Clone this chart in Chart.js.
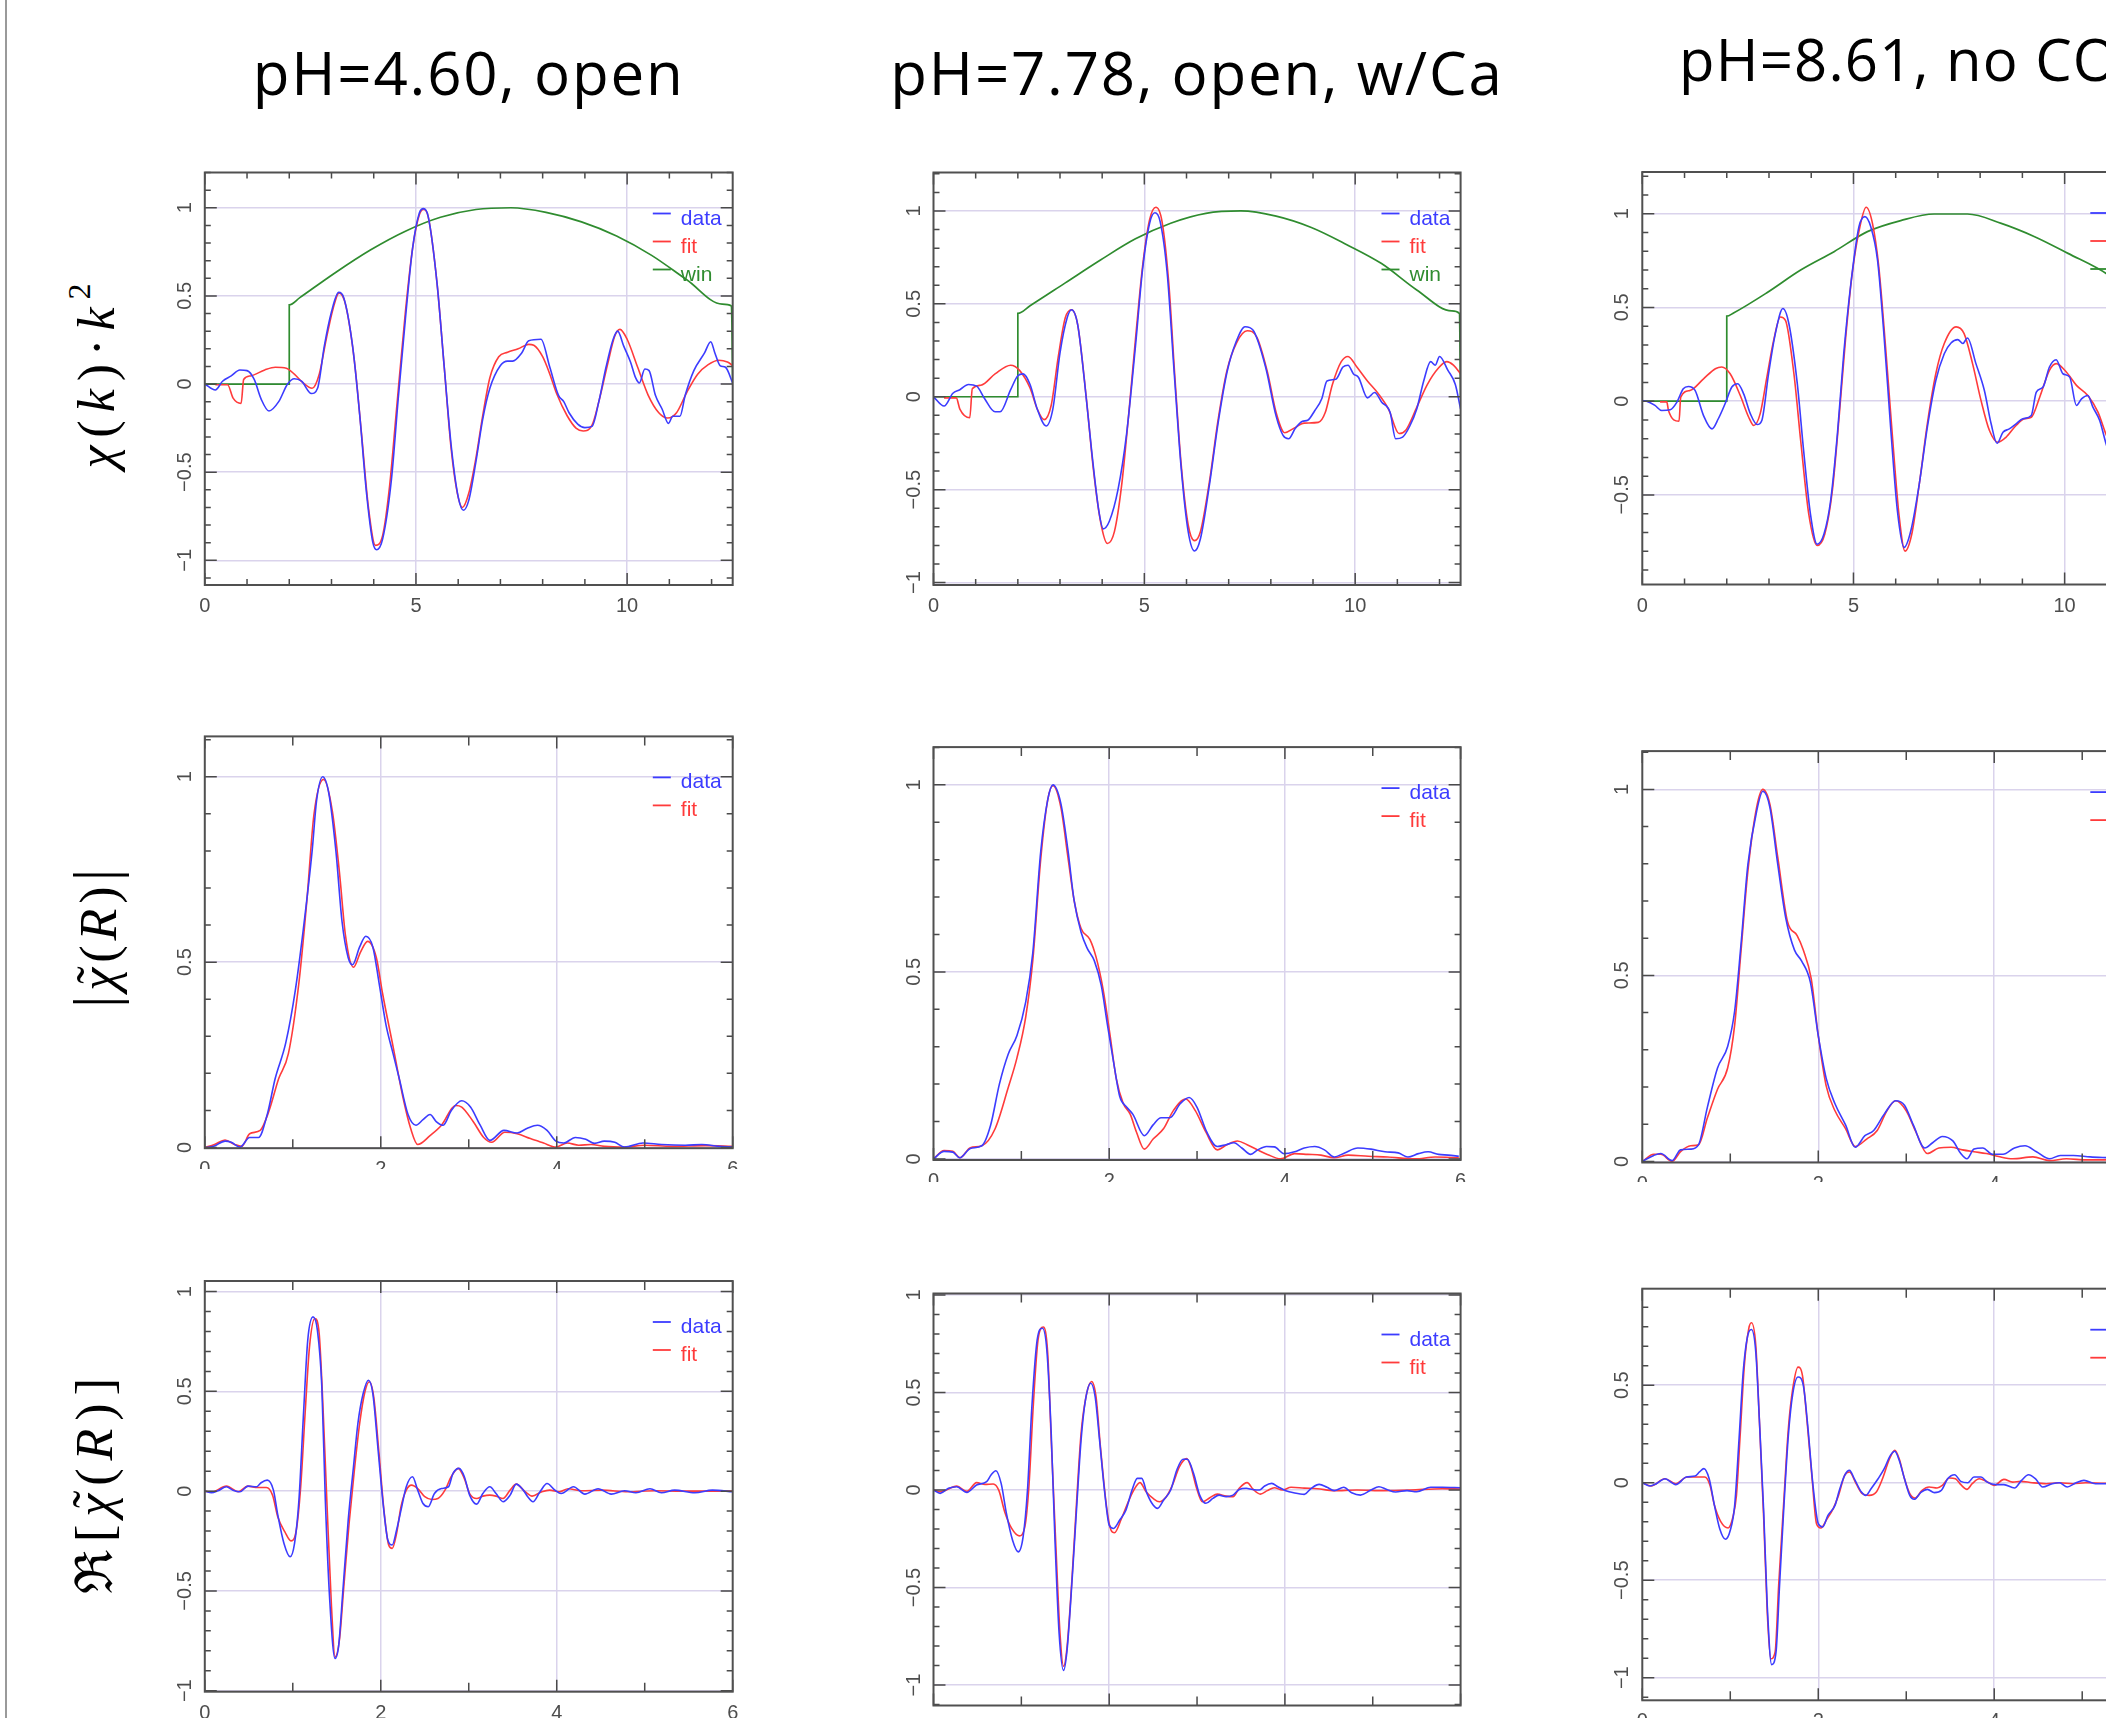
<!DOCTYPE html>
<html><head><meta charset="utf-8">
<script src="https://cdn.jsdelivr.net/npm/chart.js@4.4.0/dist/chart.umd.min.js"></script>
<style>
html,body{margin:0;padding:0;background:#fff;}
body{width:2106px;height:1718px;position:relative;overflow:hidden;}
.panel{position:absolute;background:#fff;}
.title{position:absolute;font-family:'Open Sans',sans-serif;font-size:60px;font-weight:500;letter-spacing:1.8px;line-height:60px;white-space:nowrap;color:#000;z-index:10;}
.ylab{position:absolute;font-family:'Liberation Serif','Times New Roman',serif;font-size:52px;line-height:60px;white-space:nowrap;color:#000;transform:translate(-50%,-50%) rotate(-90deg);z-index:10;}
.ylab sup{font-size:32px;vertical-align:24px;line-height:0;}
.tl{position:relative;display:inline-block;}
.tilde{position:absolute;left:56%;top:-3px;transform:translateX(-50%);font-style:normal;letter-spacing:0;}
.bar{font-size:62px;}
</style></head><body>
<div style="position:absolute;left:5px;top:0;width:2px;height:1718px;background:#9a9a9a;z-index:11"></div>
<script>
// ---------- text ----------
const columnTitles = ['pH=4.60, open', 'pH=7.78, open, w/Ca', 'pH=8.61, no CO\u2082'];
const seriesLabels = ['data', 'fit', 'win'];
const kTicks = [0, 5, 10];
const rTicks = [0, 2, 4, 6];
const yTicksChi = [-1, -0.5, 0, 0.5, 1];
const yTicksMag = [0, 0.5, 1];
const yTicksRe = [-1, -0.5, 0, 0.5, 1];

// ---------- chi(k)*k^2 : [k, value] ----------
const chi460Data = [[0,0],[0.25,-0.034],[0.42,0.016],[0.625,0.046],[0.83,0.08],[1.0,0.076],[1.17,0.026],[1.33,-0.083],[1.52,-0.153],[1.75,-0.10],[1.96,0],[2.12,0.03],[2.29,0.016],[2.525,-0.054],[2.67,-0.024],[2.83,0.215],[3.0,0.41],[3.17,0.52],[3.29,0.49],[3.5,0.215],[3.67,-0.18],[3.83,-0.62],[3.98,-0.90],[4.07,-0.94],[4.21,-0.88],[4.42,-0.54],[4.58,-0.083],[4.75,0.37],[4.92,0.77],[5.08,0.97],[5.18,0.995],[5.29,0.95],[5.5,0.57],[5.67,0.095],[5.83,-0.34],[6.0,-0.64],[6.125,-0.716],[6.25,-0.66],[6.42,-0.44],[6.58,-0.20],[6.75,-0.024],[7.0,0.105],[7.17,0.13],[7.29,0.13],[7.5,0.175],[7.67,0.245],[7.96,0.254],[8.17,0.095],[8.375,-0.064],[8.5,-0.10],[8.625,-0.163],[8.83,-0.227],[9.0,-0.247],[9.17,-0.24],[9.33,-0.10],[9.5,0.095],[9.67,0.254],[9.775,0.30],[9.92,0.215],[10.08,0.125],[10.2,0.036],[10.29,0.006],[10.42,0.085],[10.52,0.076],[10.67,-0.064],[10.83,-0.143],[10.98,-0.223],[11.08,-0.183],[11.25,-0.183],[11.375,-0.064],[11.58,0.076],[11.83,0.175],[11.98,0.24],[12.08,0.175],[12.2,0.105],[12.33,0.095],[12.5,0.006]];
const chi460Fit = [[0.25,-0.004],[0.54,-0.004],[0.67,-0.08],[0.86,-0.11],[0.92,0.026],[1.08,0.046],[1.42,0.08],[1.67,0.095],[1.93,0.09],[2.12,0.056],[2.33,0.006],[2.54,-0.024],[2.71,0.056],[2.875,0.254],[3.04,0.43],[3.18,0.517],[3.33,0.453],[3.54,0.135],[3.71,-0.28],[3.875,-0.70],[4.04,-0.915],[4.21,-0.86],[4.375,-0.58],[4.54,-0.143],[4.75,0.41],[4.92,0.77],[5.08,0.96],[5.18,0.99],[5.29,0.95],[5.5,0.57],[5.67,0.095],[5.83,-0.36],[5.98,-0.62],[6.1,-0.70],[6.25,-0.62],[6.42,-0.42],[6.58,-0.18],[6.75,0.036],[6.96,0.155],[7.17,0.18],[7.42,0.2],[7.67,0.225],[7.79,0.22],[8.0,0.155],[8.17,0.056],[8.33,-0.054],[8.58,-0.18],[8.79,-0.25],[8.96,-0.266],[9.17,-0.233],[9.33,-0.10],[9.54,0.115],[9.71,0.274],[9.83,0.31],[10.0,0.254],[10.25,0.095],[10.5,-0.064],[10.75,-0.163],[10.96,-0.193],[11.17,-0.163],[11.42,-0.044],[11.67,0.056],[11.92,0.11],[12.17,0.135],[12.375,0.125],[12.5,0.105]];
const win460 = [[0,0],[2.0,0],[2.0,0.449],[2.25,0.49],[3.08,0.63],[3.92,0.76],[4.75,0.867],[5.58,0.946],[6.42,0.99],[7.25,1.0],[8.08,0.974],[8.92,0.92],[9.75,0.84],[10.58,0.73],[11.42,0.59],[12.25,0.453],[12.47,0.443],[12.5,0]];

const chi778Data = [[0,0],[0.25,-0.05],[0.46,0.019],[0.625,0.038],[0.83,0.066],[1.025,0.057],[1.21,-0.009],[1.46,-0.081],[1.58,-0.081],[1.83,0.038],[2.0,0.113],[2.125,0.123],[2.29,0.066],[2.46,-0.066],[2.67,-0.157],[2.83,-0.066],[3.0,0.236],[3.17,0.425],[3.275,0.468],[3.42,0.387],[3.58,0.085],[3.75,-0.29],[3.92,-0.613],[4.025,-0.711],[4.17,-0.67],[4.375,-0.50],[4.58,-0.198],[4.79,0.274],[4.96,0.689],[5.125,0.934],[5.25,0.99],[5.375,0.943],[5.54,0.67],[5.71,0.123],[5.875,-0.387],[6.04,-0.726],[6.19,-0.83],[6.33,-0.764],[6.54,-0.48],[6.75,-0.14],[6.96,0.132],[7.17,0.292],[7.39,0.377],[7.58,0.358],[7.875,0.16],[8.125,-0.104],[8.29,-0.208],[8.42,-0.226],[8.58,-0.17],[8.75,-0.132],[8.875,-0.126],[9.04,-0.075],[9.21,-0.009],[9.33,0.085],[9.54,0.094],[9.71,0.16],[9.83,0.17],[9.96,0.123],[10.08,0.104],[10.29,-0.006],[10.46,0.023],[10.625,-0.028],[10.83,-0.085],[10.96,-0.226],[11.125,-0.217],[11.29,-0.16],[11.46,-0.066],[11.625,0.085],[11.79,0.189],[11.9,0.17],[12.0,0.217],[12.2,0.142],[12.375,0.066],[12.5,-0.066]];
const chi778Fit = [[0.25,-0.006],[0.54,-0.006],[0.625,-0.066],[0.86,-0.113],[0.92,0.043],[1.125,0.062],[1.46,0.123],[1.83,0.17],[2.04,0.142],[2.29,0.047],[2.46,-0.066],[2.625,-0.123],[2.79,-0.047],[2.96,0.217],[3.125,0.425],[3.275,0.468],[3.42,0.387],[3.625,-0.009],[3.79,-0.387],[3.96,-0.67],[4.125,-0.79],[4.29,-0.726],[4.46,-0.48],[4.625,-0.104],[4.79,0.31],[4.96,0.706],[5.125,0.953],[5.275,1.02],[5.42,0.943],[5.58,0.61],[5.725,0.104],[5.875,-0.368],[6.04,-0.69],[6.19,-0.774],[6.33,-0.726],[6.54,-0.462],[6.75,-0.123],[6.96,0.142],[7.19,0.292],[7.44,0.355],[7.67,0.32],[7.92,0.132],[8.125,-0.085],[8.33,-0.194],[8.54,-0.17],[8.79,-0.142],[9.125,-0.138],[9.29,-0.085],[9.46,0.066],[9.67,0.189],[9.83,0.217],[10.04,0.16],[10.29,0.085],[10.54,0.019],[10.79,-0.066],[11.04,-0.198],[11.2,-0.18],[11.46,-0.057],[11.71,0.066],[11.96,0.151],[12.17,0.189],[12.33,0.17],[12.5,0.123]];
const win778 = [[0,0],[2.0,0],[2.0,0.449],[2.29,0.49],[3.125,0.613],[3.96,0.736],[4.79,0.85],[5.625,0.934],[6.46,0.987],[7.29,1.0],[8.125,0.972],[8.96,0.911],[9.79,0.82],[10.625,0.717],[11.46,0.575],[12.29,0.462],[12.47,0.449],[12.5,0]];

const chi861Data = [[0,0.003],[0.1,0],[0.3,-0.023],[0.46,-0.05],[0.66,-0.046],[0.82,-0.005],[0.97,0.066],[1.09,0.078],[1.25,0.057],[1.45,-0.077],[1.65,-0.148],[1.8,-0.094],[1.96,-0.014],[2.12,0.075],[2.26,0.093],[2.4,0.039],[2.56,-0.068],[2.72,-0.125],[2.83,-0.103],[2.99,0.146],[3.15,0.36],[3.33,0.494],[3.47,0.414],[3.67,0.093],[3.82,-0.264],[3.98,-0.60],[4.14,-0.763],[4.3,-0.71],[4.46,-0.53],[4.62,-0.175],[4.77,0.253],[4.93,0.61],[5.13,0.93],[5.27,0.984],[5.41,0.93],[5.57,0.752],[5.72,0.36],[5.88,-0.139],[6.04,-0.584],[6.2,-0.78],[6.36,-0.69],[6.56,-0.44],[6.75,-0.139],[6.95,0.11],[7.15,0.253],[7.31,0.31],[7.47,0.328],[7.59,0.307],[7.7,0.337],[7.9,0.2],[8.1,0.057],[8.26,-0.121],[8.4,-0.225],[8.54,-0.166],[8.69,-0.148],[8.85,-0.121],[9.01,-0.094],[9.21,-0.077],[9.33,0.048],[9.49,0.075],[9.64,0.182],[9.8,0.221],[9.96,0.146],[10.12,0.128],[10.28,-0.023],[10.4,0.012],[10.55,0.03],[10.67,-0.032],[10.83,-0.103],[11.01,-0.246],[11.2,-0.3]];
const chi861Fit = [[0.42,-0.004],[0.58,-0.004],[0.62,-0.05],[0.87,-0.107],[0.91,0.021],[1.13,0.057],[1.45,0.119],[1.73,0.173],[1.88,0.182],[2.08,0.146],[2.32,0.03],[2.52,-0.086],[2.64,-0.13],[2.79,-0.068],[2.95,0.128],[3.11,0.324],[3.27,0.449],[3.39,0.431],[3.59,0.146],[3.75,-0.21],[3.94,-0.60],[4.14,-0.77],[4.32,-0.71],[4.5,-0.478],[4.66,-0.086],[4.81,0.324],[4.97,0.68],[5.17,0.948],[5.3,1.034],[5.45,0.948],[5.6,0.716],[5.76,0.289],[5.92,-0.18],[6.08,-0.61],[6.22,-0.80],[6.38,-0.71],[6.56,-0.44],[6.75,-0.12],[6.95,0.146],[7.15,0.307],[7.43,0.396],[7.62,0.36],[7.82,0.2],[8.02,0.004],[8.22,-0.157],[8.42,-0.219],[8.61,-0.193],[8.85,-0.13],[9.05,-0.094],[9.21,-0.086],[9.41,0.021],[9.64,0.164],[9.8,0.2],[10.04,0.155],[10.28,0.084],[10.55,0.03],[10.79,-0.059],[11.01,-0.193],[11.2,-0.25]];
const win861 = [[0,0],[2.0,0],[2.0,0.453],[2.16,0.47],[2.95,0.578],[3.75,0.699],[4.54,0.797],[5.33,0.904],[6.12,0.963],[6.91,0.998],[7.7,0.998],[8.5,0.948],[9.29,0.877],[10.08,0.788],[11.01,0.677],[11.6,0.57],[12.47,0.449],[12.5,0]];

// ---------- |chi(R)| : [R, value] ----------
const mag460Data = [[0,0],[0.1,0.003],[0.23,0.017],[0.3,0.014],[0.4,0.001],[0.51,0.027],[0.61,0.027],[0.71,0.089],[0.8,0.186],[0.92,0.282],[1.03,0.426],[1.12,0.589],[1.22,0.80],[1.27,0.935],[1.34,1.0],[1.41,0.955],[1.49,0.80],[1.56,0.609],[1.63,0.512],[1.68,0.493],[1.76,0.541],[1.83,0.57],[1.91,0.541],[1.98,0.445],[2.06,0.33],[2.14,0.253],[2.21,0.186],[2.31,0.089],[2.4,0.06],[2.48,0.075],[2.56,0.089],[2.63,0.07],[2.71,0.06],[2.8,0.099],[2.92,0.126],[3.02,0.109],[3.13,0.06],[3.24,0.019],[3.4,0.046],[3.55,0.039],[3.66,0.051],[3.78,0.06],[3.89,0.046],[3.99,0.017],[4.08,0.012],[4.21,0.027],[4.33,0.022],[4.43,0.011],[4.54,0.017],[4.66,0.014],[4.77,0.001],[4.98,0.012],[5.19,0.008],[5.46,0.006],[5.65,0.008],[5.84,0.003],[6.0,0.001]];
const mag460Fit = [[0,0],[0.11,0.008],[0.23,0.02],[0.34,0.008],[0.42,0.003],[0.51,0.037],[0.63,0.046],[0.73,0.099],[0.84,0.186],[0.95,0.253],[1.07,0.445],[1.16,0.666],[1.24,0.897],[1.35,0.993],[1.45,0.907],[1.53,0.743],[1.6,0.57],[1.69,0.486],[1.77,0.527],[1.85,0.556],[1.95,0.512],[2.02,0.416],[2.14,0.272],[2.25,0.1375],[2.34,0.051],[2.42,0.008],[2.56,0.032],[2.69,0.06],[2.85,0.113],[2.92,0.109],[3.05,0.07],[3.17,0.027],[3.26,0.014],[3.41,0.041],[3.55,0.037],[3.7,0.024],[3.85,0.012],[3.99,0.001],[4.12,0.012],[4.25,0.006],[4.39,0.008],[4.54,0.003],[4.77,0.001],[5.0,0.006],[5.31,0.003],[5.69,0.005],[6.0,0.003]];

const mag778Data = [[0,0],[0.12,0.02],[0.22,0.018],[0.3,0.003],[0.42,0.028],[0.55,0.035],[0.65,0.09],[0.75,0.2],[0.85,0.28],[0.95,0.33],[1.05,0.42],[1.13,0.55],[1.22,0.82],[1.3,0.96],[1.36,1.0],[1.45,0.95],[1.53,0.826],[1.6,0.692],[1.68,0.606],[1.75,0.563],[1.83,0.53],[1.91,0.463],[1.98,0.358],[2.06,0.244],[2.12,0.167],[2.2,0.138],[2.27,0.119],[2.4,0.062],[2.5,0.091],[2.59,0.11],[2.69,0.11],[2.81,0.148],[2.91,0.164],[3.0,0.138],[3.11,0.072],[3.23,0.033],[3.33,0.038],[3.42,0.043],[3.51,0.029],[3.61,0.012],[3.69,0.024],[3.79,0.033],[3.88,0.032],[3.99,0.014],[4.11,0.019],[4.22,0.029],[4.34,0.033],[4.45,0.024],[4.56,0.005],[4.68,0.016],[4.83,0.029],[4.98,0.026],[5.14,0.019],[5.29,0.016],[5.4,0.005],[5.52,0.014],[5.63,0.019],[5.75,0.012],[5.86,0.01],[5.98,0.007]];
const mag778Fit = [[0,0],[0.12,0.022],[0.22,0.02],[0.3,0.003],[0.42,0.03],[0.55,0.035],[0.7,0.08],[0.85,0.19],[0.95,0.27],[1.05,0.38],[1.13,0.53],[1.22,0.8],[1.3,0.96],[1.36,0.998],[1.45,0.94],[1.53,0.807],[1.6,0.692],[1.68,0.616],[1.78,0.587],[1.85,0.54],[1.93,0.454],[2.01,0.33],[2.08,0.215],[2.16,0.148],[2.24,0.119],[2.31,0.072],[2.4,0.026],[2.5,0.053],[2.62,0.081],[2.73,0.129],[2.87,0.16],[2.98,0.129],[3.1,0.072],[3.23,0.024],[3.34,0.038],[3.46,0.048],[3.57,0.038],[3.69,0.024],[3.8,0.012],[3.95,0],[4.11,0.014],[4.26,0.012],[4.41,0.01],[4.56,0.003],[4.72,0.01],[4.95,0.007],[5.17,0.005],[5.48,0],[5.71,0.005],[5.98,0.003]];

const mag861Data = [[0,0],[0.13,0.016],[0.21,0.021],[0.34,0.002],[0.435,0.031],[0.55,0.033],[0.64,0.045],[0.74,0.146],[0.855,0.251],[0.97,0.309],[1.05,0.405],[1.12,0.578],[1.2,0.798],[1.3,0.942],[1.37,0.995],[1.45,0.952],[1.54,0.798],[1.63,0.655],[1.73,0.568],[1.81,0.539],[1.91,0.482],[2.0,0.338],[2.09,0.223],[2.19,0.155],[2.31,0.098],[2.42,0.038],[2.53,0.069],[2.63,0.083],[2.75,0.127],[2.88,0.163],[2.98,0.151],[3.08,0.098],[3.21,0.036],[3.3,0.05],[3.41,0.067],[3.53,0.055],[3.62,0.021],[3.69,0.007],[3.77,0.033],[3.87,0.036],[3.98,0.019],[4.1,0.019],[4.23,0.036],[4.35,0.042],[4.48,0.026],[4.63,0.007],[4.75,0.016],[4.9,0.016],[5.09,0.012],[5.27,0.01],[5.5,0.008],[5.8,0.005],[6.0,0.004]];
const mag861Fit = [[0,0],[0.13,0.019],[0.21,0.019],[0.34,0],[0.435,0.026],[0.55,0.042],[0.64,0.045],[0.74,0.117],[0.855,0.194],[0.97,0.251],[1.05,0.367],[1.12,0.56],[1.2,0.78],[1.3,0.952],[1.37,1.0],[1.45,0.96],[1.54,0.817],[1.65,0.645],[1.76,0.607],[1.83,0.568],[1.92,0.491],[2.0,0.338],[2.09,0.203],[2.19,0.136],[2.31,0.088],[2.42,0.04],[2.55,0.06],[2.67,0.083],[2.78,0.136],[2.88,0.163],[3.0,0.136],[3.11,0.079],[3.24,0.021],[3.37,0.036],[3.51,0.038],[3.64,0.031],[3.77,0.026],[3.91,0.021],[4.05,0.013],[4.21,0.007],[4.44,0.012],[4.63,0.002],[4.82,0.007],[5.05,0.004],[5.27,0.004],[5.6,0.003],[6.0,0.002]];

// ---------- Re[chi(R)] : [R, value] ----------
const re460Data = [[0,0],[0.076,-0.008],[0.15,0.002],[0.246,0.022],[0.32,0.005],[0.4,-0.003],[0.49,0.025],[0.59,0.022],[0.64,0.042],[0.71,0.055],[0.78,0.005],[0.83,-0.12],[0.9,-0.262],[0.97,-0.329],[1.02,-0.262],[1.07,-0.045],[1.12,0.372],[1.17,0.756],[1.23,0.873],[1.28,0.806],[1.33,0.524],[1.37,-0.045],[1.42,-0.546],[1.48,-0.838],[1.52,-0.78],[1.57,-0.496],[1.63,-0.145],[1.69,0.122],[1.74,0.339],[1.8,0.489],[1.86,0.556],[1.91,0.489],[1.97,0.205],[2.03,-0.078],[2.08,-0.245],[2.13,-0.27],[2.18,-0.195],[2.23,-0.095],[2.29,0.022],[2.36,0.072],[2.42,0.005],[2.48,-0.062],[2.54,-0.078],[2.61,-0.012],[2.69,0.013],[2.77,0.022],[2.82,0.088],[2.89,0.114],[2.95,0.072],[3.01,-0.02],[3.09,-0.065],[3.16,-0.012],[3.24,0.022],[3.31,-0.012],[3.39,-0.053],[3.47,-0.02],[3.54,0.035],[3.62,0.005],[3.67,-0.028],[3.73,-0.053],[3.81,-0.003],[3.89,0.038],[3.98,0.005],[4.05,-0.012],[4.19,0.022],[4.32,-0.015],[4.47,0.012],[4.62,-0.015],[4.77,0.002],[4.9,-0.008],[5.06,0.012],[5.19,-0.008],[5.34,0.005],[5.57,-0.008],[5.77,0.005],[6.0,-0.003]];
const re460Fit = [[0,0],[0.076,-0.005],[0.246,0.025],[0.38,-0.003],[0.49,0.025],[0.6,0.018],[0.7,0.018],[0.77,-0.02],[0.83,-0.129],[0.91,-0.204],[0.98,-0.249],[1.04,-0.195],[1.09,0.022],[1.14,0.389],[1.19,0.723],[1.25,0.865],[1.3,0.79],[1.34,0.456],[1.39,-0.078],[1.44,-0.579],[1.48,-0.83],[1.53,-0.746],[1.58,-0.479],[1.64,-0.162],[1.7,0.105],[1.76,0.339],[1.82,0.498],[1.87,0.548],[1.92,0.472],[1.98,0.189],[2.04,-0.112],[2.09,-0.27],[2.13,-0.287],[2.18,-0.212],[2.23,-0.078],[2.29,0.005],[2.35,0.03],[2.42,0.013],[2.5,-0.028],[2.58,-0.042],[2.65,-0.037],[2.73,0.005],[2.8,0.072],[2.88,0.114],[2.95,0.063],[3.01,-0.012],[3.09,-0.037],[3.16,-0.025],[3.24,-0.02],[3.31,-0.025],[3.39,-0.037],[3.47,0.005],[3.54,0.035],[3.64,-0.003],[3.72,-0.025],[3.83,-0.003],[3.92,0.005],[4.03,-0.003],[4.13,0.012],[4.28,0.002],[4.51,0.005],[4.81,-0.003],[5.11,0.002],[5.42,0],[5.77,0],[6.0,0]];

const re778Data = [[0,0],[0.076,-0.017],[0.17,0.009],[0.265,0.017],[0.38,-0.012],[0.49,0.026],[0.605,0.043],[0.655,0.077],[0.71,0.099],[0.77,0.034],[0.83,-0.12],[0.9,-0.257],[0.965,-0.317],[1.02,-0.24],[1.07,0],[1.12,0.428],[1.18,0.77],[1.24,0.83],[1.29,0.719],[1.34,0.291],[1.38,-0.223],[1.43,-0.736],[1.48,-0.925],[1.52,-0.822],[1.58,-0.445],[1.63,-0.086],[1.68,0.257],[1.73,0.462],[1.79,0.548],[1.84,0.479],[1.89,0.257],[1.95,-0.017],[2.0,-0.18],[2.05,-0.197],[2.12,-0.154],[2.19,-0.103],[2.26,0],[2.32,0.06],[2.37,0.06],[2.43,-0.017],[2.5,-0.077],[2.55,-0.094],[2.62,-0.051],[2.7,0],[2.77,0.103],[2.84,0.158],[2.89,0.158],[2.96,0.086],[3.03,-0.026],[3.1,-0.068],[3.18,-0.043],[3.25,-0.026],[3.33,-0.034],[3.41,-0.026],[3.48,0.003],[3.56,0.009],[3.63,0.003],[3.71,0],[3.77,0.021],[3.85,0.034],[3.92,0.017],[4.01,-0.003],[4.1,-0.014],[4.22,-0.022],[4.3,0.009],[4.39,0.029],[4.48,0.014],[4.56,-0.003],[4.67,0.014],[4.76,-0.014],[4.86,-0.026],[4.98,0],[5.07,0.017],[5.16,0.003],[5.26,-0.01],[5.39,-0.003],[5.5,-0.009],[5.66,0.014],[5.79,0.014],[6.0,0.012]];
const re778Fit = [[0,0],[0.076,-0.009],[0.265,0.02],[0.38,-0.007],[0.49,0.038],[0.586,0.029],[0.68,0.031],[0.745,-0.003],[0.81,-0.111],[0.89,-0.197],[0.976,-0.235],[1.04,-0.188],[1.086,0.017],[1.135,0.428],[1.19,0.77],[1.25,0.836],[1.3,0.702],[1.34,0.257],[1.39,-0.257],[1.44,-0.736],[1.48,-0.904],[1.52,-0.807],[1.58,-0.428],[1.63,-0.051],[1.68,0.291],[1.74,0.488],[1.8,0.557],[1.85,0.479],[1.9,0.223],[1.97,-0.086],[2.02,-0.205],[2.06,-0.219],[2.14,-0.146],[2.21,-0.068],[2.28,0],[2.35,0.038],[2.42,-0.009],[2.5,-0.043],[2.57,-0.06],[2.65,-0.034],[2.72,0.026],[2.8,0.12],[2.88,0.161],[2.93,0.12],[2.99,0.017],[3.06,-0.06],[3.15,-0.038],[3.23,-0.021],[3.33,-0.031],[3.41,-0.034],[3.48,0.009],[3.57,0.038],[3.64,0.003],[3.72,-0.021],[3.8,-0.003],[3.88,0.012],[3.97,0],[4.07,0.014],[4.22,0.01],[4.37,0.007],[4.56,-0.003],[4.82,0],[5.13,-0.003],[5.43,0],[5.79,0.007],[6.0,0.005]];

const re861Data = [[0,0],[0.087,-0.017],[0.16,-0.005],[0.257,0.02],[0.38,-0.01],[0.5,0.029],[0.6,0.034],[0.65,0.055],[0.7,0.072],[0.76,0.02],[0.82,-0.116],[0.88,-0.236],[0.945,-0.29],[1.0,-0.244],[1.05,-0.116],[1.1,0.226],[1.15,0.585],[1.21,0.773],[1.24,0.786],[1.29,0.67],[1.33,0.328],[1.38,-0.15],[1.42,-0.629],[1.47,-0.933],[1.52,-0.868],[1.56,-0.526],[1.61,-0.116],[1.66,0.243],[1.71,0.456],[1.77,0.542],[1.83,0.499],[1.88,0.294],[1.94,-0.014],[2.0,-0.21],[2.05,-0.227],[2.11,-0.168],[2.19,-0.116],[2.24,-0.039],[2.3,0.038],[2.355,0.063],[2.41,0.02],[2.49,-0.048],[2.54,-0.065],[2.6,-0.031],[2.68,0.02],[2.75,0.072],[2.82,0.14],[2.87,0.161],[2.92,0.115],[2.98,0.02],[3.04,-0.065],[3.09,-0.085],[3.17,-0.048],[3.24,-0.034],[3.32,-0.051],[3.4,-0.039],[3.47,0.02],[3.55,0.041],[3.62,0.007],[3.7,0],[3.77,0.029],[3.85,0.029],[3.92,0.003],[4.02,-0.01],[4.11,-0.01],[4.23,-0.027],[4.31,0.012],[4.39,0.041],[4.47,0.02],[4.55,-0.022],[4.66,-0.005],[4.74,0],[4.83,-0.022],[4.93,0],[5.02,0.012],[5.15,-0.005],[5.26,-0.005],[5.5,0.005],[5.8,-0.003],[6.0,0]];
const re861Fit = [[0,0],[0.1,-0.017],[0.257,0.02],[0.38,-0.005],[0.51,0.029],[0.62,0.029],[0.71,0.029],[0.77,-0.014],[0.82,-0.116],[0.89,-0.198],[0.975,-0.232],[1.03,-0.176],[1.07,-0.065],[1.11,0.226],[1.16,0.602],[1.21,0.79],[1.24,0.82],[1.29,0.704],[1.33,0.328],[1.38,-0.185],[1.42,-0.663],[1.46,-0.903],[1.51,-0.868],[1.55,-0.526],[1.61,-0.082],[1.66,0.277],[1.71,0.482],[1.77,0.593],[1.82,0.55],[1.87,0.328],[1.93,0.02],[1.98,-0.21],[2.03,-0.232],[2.1,-0.185],[2.17,-0.133],[2.23,-0.065],[2.3,0.038],[2.355,0.055],[2.43,-0.005],[2.5,-0.056],[2.58,-0.065],[2.66,-0.048],[2.73,0.02],[2.81,0.123],[2.87,0.166],[2.92,0.123],[2.98,0.02],[3.04,-0.056],[3.1,-0.079],[3.18,-0.039],[3.26,-0.022],[3.35,-0.027],[3.41,-0.014],[3.49,0.024],[3.56,0.02],[3.62,-0.01],[3.69,-0.034],[3.75,-0.005],[3.83,0.02],[3.91,0.007],[4.0,-0.014],[4.11,0.017],[4.21,0.003],[4.3,0.007],[4.43,0],[4.59,-0.005],[4.74,0],[4.89,-0.005],[5.04,0],[5.26,-0.003],[5.6,0],[6.0,0]];

// ---------- styles / layout ----------
const BLUE = '#3c3cff', RED = '#ff3b3b', GREEN = '#2f8c2f', GRID = '#dad3ec';
const LABEL_FONT = '20px "Liberation Sans", Arial, sans-serif';
const LEGEND_FONT = '21px "Liberation Sans", Arial, sans-serif';

const rowCfg = [
  {x:[0,12.5], xLabels:kTicks, xGrid:[5,10], xMinor:1, xMajor:5, xMinLen:6, yLabels:yTicksChi},
  {x:[0,6], xLabels:rTicks, xGrid:[2,4], xMinor:1, xMajor:2, xMinLen:9, yLabels:yTicksMag},
  {x:[0,6], xLabels:rTicks, xGrid:[2,4], xMinor:1, xMajor:2, xMinLen:9, yLabels:yTicksRe}
];
const panels = [
  {row:0, L:204.8, T:172.5, R:732.7, B:585, top:152, y:[-1.14,1.2], s:[chi460Data, chi460Fit, win460]},
  {row:0, L:933.5, T:172.5, R:1460.6, B:585, top:152, y:[-1.013,1.207], s:[chi778Data, chi778Fit, win778]},
  {row:0, L:1642.3, T:172, R:2170.2, B:584.5, top:152, y:[-0.978,1.222], s:[chi861Data, chi861Fit, win861]},
  {row:1, L:204.8, T:736.4, R:732.7, B:1148.2, top:716, y:[-0.002,1.109], s:[mag460Data, mag460Fit]},
  {row:1, L:933.5, T:747.1, R:1460.6, B:1160, top:727, y:[-0.003,1.101], s:[mag778Data, mag778Fit]},
  {row:1, L:1642.3, T:751.1, R:2170.2, B:1162.5, top:731, y:[-0.003,1.103], s:[mag861Data, mag861Fit]},
  {row:2, L:204.8, T:1281, R:732.7, B:1691.7, top:1169, y:[-1.005,1.053], s:[re460Data, re460Fit]},
  {row:2, L:933.5, T:1293.5, R:1460.6, B:1705.5, top:1182, y:[-1.105,1.008], s:[re778Data, re778Fit]},
  {row:2, L:1642.3, T:1288.7, R:2170.2, B:1700.3, top:1182, y:[-1.116,0.995], s:[re861Data, re861Fit]}
];

function fmt(v){ return (v < 0 ? '\u2212' : '') + String(Math.abs(v)); }
function inRange(v, a, b){ return v >= a - 1e-9 && v <= b + 1e-9; }

const decor = {
  id: 'decor',
  afterDraw(chart, args, o){
    const ctx = chart.ctx, a = chart.chartArea, xs = chart.scales.x, ys = chart.scales.y;
    ctx.save();
    ctx.strokeStyle = '#4a4a4a'; ctx.lineWidth = 1.5;
    ctx.beginPath();
    for (let i = Math.ceil(xs.min / o.xMinor - 1e-9); i <= Math.floor(xs.max / o.xMinor + 1e-9); i++){
      const v = i * o.xMinor, px = xs.getPixelForValue(v);
      const maj = Math.abs(v / o.xMajor - Math.round(v / o.xMajor)) < 1e-6;
      const len = maj ? 12 : o.xMinLen;
      ctx.moveTo(px, a.bottom); ctx.lineTo(px, a.bottom - len);
      ctx.moveTo(px, a.top); ctx.lineTo(px, a.top + len);
    }
    for (let i = Math.ceil(ys.min / 0.1 - 1e-9); i <= Math.floor(ys.max / 0.1 + 1e-9); i++){
      const v = i * 0.1, py = ys.getPixelForValue(v);
      const maj = (i % 5) === 0;
      const len = maj ? 12 : 6;
      ctx.moveTo(a.left, py); ctx.lineTo(a.left + len, py);
      ctx.moveTo(a.right, py); ctx.lineTo(a.right - len, py);
    }
    ctx.stroke();
    ctx.lineWidth = 2; ctx.strokeStyle = '#505050';
    ctx.strokeRect(a.left, a.top, a.right - a.left, a.bottom - a.top);
    // tick labels
    ctx.fillStyle = '#4d4d4d'; ctx.font = LABEL_FONT;
    ctx.textAlign = 'center'; ctx.textBaseline = 'alphabetic';
    o.xLabels.forEach(v => { if (inRange(v, xs.min, xs.max)) ctx.fillText(fmt(v), xs.getPixelForValue(v), a.bottom + 27); });
    o.yLabels.forEach(v => {
      if (!inRange(v, ys.min, ys.max)) return;
      ctx.save(); ctx.translate(a.left - 14, ys.getPixelForValue(v)); ctx.rotate(-Math.PI / 2);
      ctx.fillText(fmt(v), 0, 0); ctx.restore();
    });
    // legend
    ctx.font = LEGEND_FONT; ctx.textAlign = 'left';
    chart.data.datasets.forEach((ds, i) => {
      const yb = a.top + 52 + 28 * i;
      ctx.strokeStyle = ds.borderColor; ctx.lineWidth = 1.8;
      ctx.beginPath(); ctx.moveTo(a.left + 448, yb - 11); ctx.lineTo(a.left + 466, yb - 11); ctx.stroke();
      ctx.fillStyle = ds.borderColor; ctx.fillText(ds.label, a.left + 476, yb);
    });
    ctx.restore();
  }
};

const colors = [BLUE, RED, GREEN];
panels.forEach(p => {
  const rc = rowCfg[p.row];
  const cl = Math.round(p.L) - 60;
  const ct = p.top;
  const leftM = p.L - cl, topM = p.T - ct;
  const W = Math.ceil(p.R - cl + 14), H = Math.ceil(p.B - ct + 42);
  const rightM = W - (p.R - cl), botM = H - (p.B - ct);
  const div = document.createElement('div');
  div.className = 'panel';
  div.style.left = cl + 'px'; div.style.top = ct + 'px';
  div.style.width = W + 'px'; div.style.height = H + 'px';
  const cv = document.createElement('canvas');
  cv.width = W; cv.height = H; cv.style.width = W + 'px'; cv.style.height = H + 'px';
  div.appendChild(cv); document.body.appendChild(div);
  const yGrid = rc.yLabels.filter(v => inRange(v, p.y[0], p.y[1]));
  new Chart(cv.getContext('2d'), {
    type: 'line',
    data: {
      datasets: p.s.map((arr, i) => ({
        label: seriesLabels[i],
        data: arr.map(([x, y]) => ({x, y})),
        borderColor: colors[i],
        borderWidth: i === 2 ? 1.7 : 1.6,
        pointRadius: 0,
        fill: false,
        tension: 0.4,
        cubicInterpolationMode: 'monotone'
      }))
    },
    options: {
      responsive: false, animation: false, devicePixelRatio: 1,
      layout: {padding: {left: 0, top: topM, right: rightM, bottom: 0}},
      plugins: {
        legend: {display: false}, tooltip: {enabled: false},
        decor: {xMinor: rc.xMinor, xMajor: rc.xMajor, xMinLen: rc.xMinLen, xLabels: rc.xLabels, yLabels: rc.yLabels}
      },
      scales: {
        x: {type: 'linear', min: rc.x[0], max: rc.x[1],
            grid: {color: GRID, lineWidth: 1.5, drawTicks: false}, border: {display: false},
            ticks: {display: false},
            afterBuildTicks: s => { s.ticks = rc.xGrid.map(v => ({value: v})); },
            afterFit: s => { s.height = botM; }},
        y: {type: 'linear', min: p.y[0], max: p.y[1],
            grid: {color: GRID, lineWidth: 1.5, drawTicks: false}, border: {display: false},
            ticks: {display: false},
            afterBuildTicks: s => { s.ticks = yGrid.map(v => ({value: v})); },
            afterFit: s => { s.width = leftM; }}
      }
    },
    plugins: [decor]
  });
});

// column titles
const titlePos = [{cx:468.7, base:94.5}, {cx:1197, base:94.5}, {left:1679, base:81, size:58, ls:1.2}];
columnTitles.forEach((t, i) => {
  const d = document.createElement('div');
  d.className = 'title'; d.textContent = t;
  const tp = titlePos[i];
  if (tp.size){ d.style.fontSize = tp.size + 'px'; d.style.lineHeight = tp.size + 'px'; d.style.letterSpacing = tp.ls + 'px'; }
  const sz = tp.size || 60;
  d.style.top = (tp.base - sz * 0.883) + 'px';
  if (tp.cx !== undefined){ d.style.left = tp.cx + 'px'; d.style.transform = 'translateX(-50%)'; }
  else d.style.left = tp.left + 'px';
  document.body.appendChild(d);
});

// row axis titles
const tildeChi = '<span class="tl"><i>\u03C7</i><span class="tilde">\u02DC</span></span>';
const rowTitles = [
  {html: '<i>\u03C7</i>(<i>k</i>)\u00B7<i>k</i><sup>2</sup>', cx: 97, cy: 372, ls: 8},
  {html: '<span class="bar">|</span>' + tildeChi + '(<i>R</i>)<span class="bar">|</span>', cx: 97, cy: 936, ls: 5},
  {html: '\u211C[' + tildeChi + '(<i>R</i>)]', cx: 95, cy: 1482, ls: 8}
];
rowTitles.forEach(r => {
  const d = document.createElement('div');
  d.className = 'ylab'; d.innerHTML = r.html;
  d.style.left = r.cx + 'px'; d.style.top = r.cy + 'px'; d.style.letterSpacing = r.ls + 'px';
  document.body.appendChild(d);
});
</script>
</body></html>
